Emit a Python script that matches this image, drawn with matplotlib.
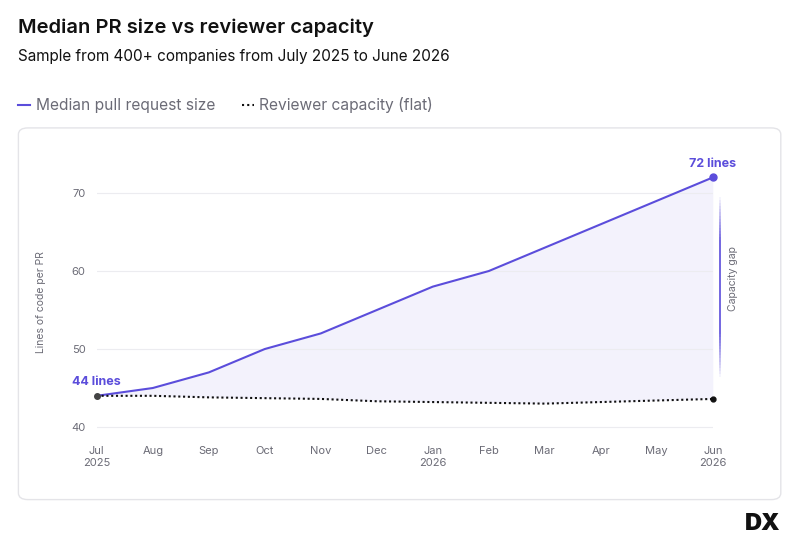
import matplotlib.pyplot as plt
from matplotlib.patches import FancyBboxPatch
import numpy as np

months = ["Jul\n2025", "Aug", "Sep", "Oct", "Nov", "Dec", "Jan\n2026", "Feb", "Mar", "Apr", "May", "Jun\n2026"]
pr_size = [44, 45, 47, 50, 52, 55, 58, 60, 63, 66, 69, 72]
capacity = [44, 44, 43.8, 43.7, 43.6, 43.3, 43.2, 43.1, 43.0, 43.2, 43.4, 43.6]
yticks = [40, 50, 60, 70]

purple = "#5b4ddb"
grey = "#6b6b76"
plt.rcParams['font.family'] = ['Inter', 'DejaVu Sans']

fig = plt.figure(figsize=(8, 5.49), dpi=100, facecolor="white")
fig.text(0.022, 0.94, "Median PR size vs reviewer capacity", fontsize=14.5, fontweight="semibold", color="#111")
fig.text(0.022, 0.889, "Sample from 400+ companies from July 2025 to June 2026", fontsize=11, color="#111")

# legend
fig.lines.append(plt.Line2D([0.022, 0.037], [0.808, 0.808], color=purple, lw=1.5, transform=fig.transFigure))
fig.text(0.045, 0.808, "Median pull request size", fontsize=11.2, color=grey, va="center")
fig.lines.append(plt.Line2D([0.302, 0.317], [0.808, 0.808], color="#111", lw=1.5, ls=(0, (1, 1.5)), transform=fig.transFigure))
fig.text(0.324, 0.808, "Reviewer capacity (flat)", fontsize=11.2, color=grey, va="center")

card = FancyBboxPatch((0.023, 0.09), 0.953, 0.677, boxstyle="round,pad=0,rounding_size=0.012",
                      transform=fig.transFigure, facecolor="white", edgecolor="#e4e4e8", lw=1, zorder=-5)
fig.patches.append(card)

ax = fig.add_axes([0.121, 0.208, 0.770, 0.483])
ax.set_zorder(2)
ax.set_facecolor("none")
x = np.arange(len(months))
ax.fill_between(x, capacity, pr_size, color=purple, alpha=0.07, lw=0)
ax.plot(x, pr_size, color=purple, lw=1.5, clip_on=False)
ax.plot(x, capacity, color="#111", lw=1.5, ls=(0, (1, 1.3)), clip_on=False)
ax.plot([x[-1]], [pr_size[-1]], "o", color=purple, ms=5, clip_on=False)
ax.plot([x[0]], [capacity[0]], "o", color="#444", ms=4, clip_on=False)
ax.plot([x[-1]], [capacity[-1]], "o", color="#111", ms=3.5, clip_on=False)
ax.text(x[0], pr_size[0] + 1.0, "44 lines", color=purple, fontsize=9, fontweight="bold", ha="center", va="bottom")
ax.text(x[-1], pr_size[-1] + 1.0, "72 lines", color=purple, fontsize=9, fontweight="bold", ha="center", va="bottom")

# capacity gap marker with fading ends
ys = np.linspace(46, 69.5, 60)
for i in range(len(ys) - 1):
    t = (ys[i] - 46) / (69.5 - 46)
    a = min(1, 4 * t, 4 * (1 - t))
    ax.plot([11.13, 11.13], [ys[i], ys[i + 1]], color=purple, lw=1.2, alpha=a, clip_on=False, solid_capstyle="butt")
ax.text(11.36, 59, "Capacity gap", rotation=90, fontsize=7.5, color=grey, ha="center", va="center")

ax.set_xlim(0, 11)
ax.set_ylim(39, 73)
ax.set_yticks(yticks)
ax.set_xticks(x)
ax.set_xticklabels(months)
ax.grid(axis="y", color="#ececf0", lw=0.8)
ax.tick_params(length=0, labelsize=8, colors=grey, pad=8)
for s in ax.spines.values():
    s.set_visible(False)
ax.set_ylabel("Lines of code per PR", fontsize=7.5, color=grey, labelpad=18)

fig.text(0.975, 0.025, "DX", fontsize=17, fontweight="black", color="#111", ha="right", va="bottom")

fig.savefig("out.png", dpi=100, facecolor="white")
